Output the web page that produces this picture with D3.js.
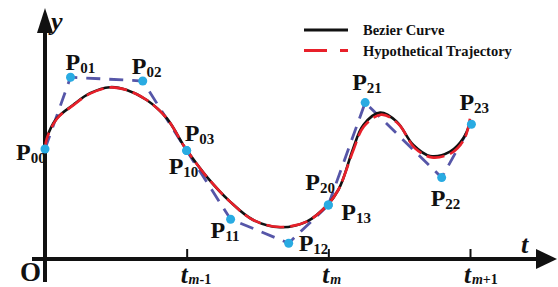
<!DOCTYPE html>
<html>
<head>
<meta charset="utf-8">
<script src="https://cdn.jsdelivr.net/npm/d3@7"></script>
<style>
  body { margin: 0; background: #fff; }
  svg { display: block; }
  text { font-family: "Liberation Serif", "Times New Roman", serif; font-weight: bold; fill: #111; }
</style>
</head>
<body>
<div id="chart"></div>
<script>
// time axis: 0 = origin, 1 = t(m-1), 2 = t(m), 3 = t(m+1)
var tickValues = [1, 2, 3];
var tickSubs = ["m-1", "m", "m+1"];

// control points of the three Bezier segments
var controlNames = ["00", "01", "02", "03", "10", "11", "12", "13", "20", "21", "22", "23"];
var controlT = [0, 0.18, 0.69, 1.0, 1.0, 1.31, 1.72, 2.0, 2.0, 2.26, 2.80, 3.01];
var controlY = [5.5, 9.09, 8.9, 5.42, 5.42, 1.99, 0.79, 2.7, 2.7, 7.82, 4.07, 6.74];

// bezier curve
var bezierT = [0, 0.012, 0.083, 0.198, 0.318, 0.459, 0.577, 0.718, 0.859, 0.976, 1.0,
  1.141, 1.306, 1.47, 1.659, 1.847, 2.0, 2.07, 2.106, 2.176, 2.247, 2.365, 2.483, 2.6, 2.718, 2.859, 2.953, 3.0];
var bezierY = [5.55, 6.04, 7.03, 7.7, 8.29, 8.59, 8.45, 7.95, 7.04, 5.7, 5.45,
  4.12, 2.87, 1.95, 1.59, 1.87, 2.75, 3.45, 4.04, 5.54, 6.7, 7.32, 6.87, 5.7, 5.15, 5.37, 6.04, 6.79];

// hypothetical trajectory
var trajT = [0, 0.012, 0.083, 0.198, 0.318, 0.459, 0.577, 0.718, 0.859, 0.976, 1.0,
  1.141, 1.306, 1.47, 1.659, 1.847, 2.0, 2.07, 2.106, 2.18, 2.25, 2.375, 2.495, 2.61, 2.73, 2.87, 2.96, 3.0];
var trajY = [5.45, 6.0, 7.0, 7.68, 8.27, 8.58, 8.45, 7.95, 7.04, 5.7, 5.45,
  4.12, 2.87, 1.95, 1.6, 1.87, 2.75, 3.45, 4.04, 5.5, 6.62, 7.22, 6.75, 5.55, 5.08, 5.3, 6.0, 7.03];

var legendNames = ["Bezier Curve", "Hypothetical Trajectory"];

// label offsets (px) of each control point name
var labelDx = [-29, -5, -11, -2, -18, -20, 10, 13, -23, -13, -11, -12];
var labelDy = [11, -7, -7, -10, 23, 19, 8, 15, -15, -13, 28, -14];

var width = 558, height = 287;

var svg = d3.select("#chart").append("svg")
    .attr("width", width)
    .attr("height", height);

var x = d3.scaleLinear().domain([0, 3]).range([45, 470]);
var y = d3.scaleLinear().domain([0, 12]).range([259, 19]);

var x0 = x(0), y0 = y(0);

// tick marks pointing up
var axis = svg.append("g")
    .attr("transform", "translate(0," + y0 + ")")
    .call(d3.axisBottom(x).tickValues(tickValues).tickSize(-10).tickFormat(""));
axis.select(".domain").remove();
axis.selectAll(".tick line").attr("stroke", "#111").attr("stroke-width", 2);

// axes with arrows
svg.append("line")
    .attr("x1", x0 - 13).attr("x2", 540)
    .attr("y1", y0).attr("y2", y0)
    .attr("stroke", "#111").attr("stroke-width", 4);
svg.append("path")
    .attr("d", "M536," + (y0 - 10) + "L557," + y0 + "L536," + (y0 + 10) + "Z")
    .attr("fill", "#111");
svg.append("line")
    .attr("x1", x0).attr("x2", x0)
    .attr("y1", 282).attr("y2", 30)
    .attr("stroke", "#111").attr("stroke-width", 4);
svg.append("path")
    .attr("d", "M" + (x0 - 8) + ",33L" + x0 + ",8L" + (x0 + 8) + ",33Z")
    .attr("fill", "#111");

svg.append("text").attr("x", 51).attr("y", 30)
    .style("font-style", "italic").style("font-size", "26px").text("y");
svg.append("text").attr("x", 521).attr("y", 253)
    .style("font-style", "italic").style("font-size", "26px").text("t");
svg.append("text").attr("x", 20).attr("y", 281)
    .style("font-size", "27px").text("O");

// tick labels
tickValues.forEach(function(v, i) {
    var t = svg.append("text")
        .attr("x", x(v) - 6).attr("y", 283)
        .style("font-size", "25px");
    t.append("tspan").style("font-style", "italic").text("t");
    var sub = tickSubs[i];
    t.append("tspan").attr("dx", 1).attr("dy", 1).style("font-size", "14px").style("font-style", "italic").text("m");
    if (sub.length > 1) {
        t.append("tspan").style("font-size", "14px").text(sub.slice(1));
    }
});

// control polygons
var polyLine = d3.line()
    .x(function(d) { return x(controlT[d]); })
    .y(function(d) { return y(controlY[d]); });

[0, 1, 2].forEach(function(s) {
    svg.append("path")
        .attr("d", polyLine(d3.range(s * 4, s * 4 + 4)))
        .attr("fill", "none")
        .attr("stroke", "#5656a8")
        .attr("stroke-width", 2.8)
        .attr("stroke-dasharray", "14,9");
});

var curve = d3.line()
    .x(function(d) { return x(d[0]); })
    .y(function(d) { return y(d[1]); })
    .curve(d3.curveCatmullRom.alpha(0.5));

svg.append("path")
    .attr("d", curve(d3.zip(bezierT, bezierY)))
    .attr("fill", "none")
    .attr("stroke", "#111")
    .attr("stroke-width", 2.6);

svg.append("path")
    .attr("d", curve(d3.zip(trajT, trajY)))
    .attr("fill", "none")
    .attr("stroke", "#e8202a")
    .attr("stroke-width", 2.6)
    .attr("stroke-dasharray", "18,6");

// control points
svg.selectAll("circle.cp")
    .data(controlNames)
    .enter().append("circle")
    .attr("class", "cp")
    .attr("cx", function(d, i) { return x(controlT[i]); })
    .attr("cy", function(d, i) { return y(controlY[i]); })
    .attr("r", 4.5)
    .attr("fill", "#29abe2");

controlNames.forEach(function(name, i) {
    var t = svg.append("text")
        .attr("x", x(controlT[i]) + labelDx[i])
        .attr("y", y(controlY[i]) + labelDy[i])
        .style("font-size", "24px");
    t.append("tspan").text("P");
    t.append("tspan").attr("dy", 3).style("font-size", "15px").text(name);
});

// legend
var legend = svg.append("g").attr("transform", "translate(304,0)");
legend.append("line")
    .attr("x1", 0).attr("x2", 44).attr("y1", 30).attr("y2", 30)
    .attr("stroke", "#111").attr("stroke-width", 3);
legend.append("line")
    .attr("x1", 0).attr("x2", 44).attr("y1", 50.5).attr("y2", 50.5)
    .attr("stroke", "#e8202a").attr("stroke-width", 3)
    .attr("stroke-dasharray", "23,13");
legendNames.forEach(function(n, i) {
    legend.append("text")
        .attr("x", 59).attr("y", 35 + i * 20.5)
        .style("font-size", "14.5px")
        .text(n);
});
</script>
</body>
</html>
